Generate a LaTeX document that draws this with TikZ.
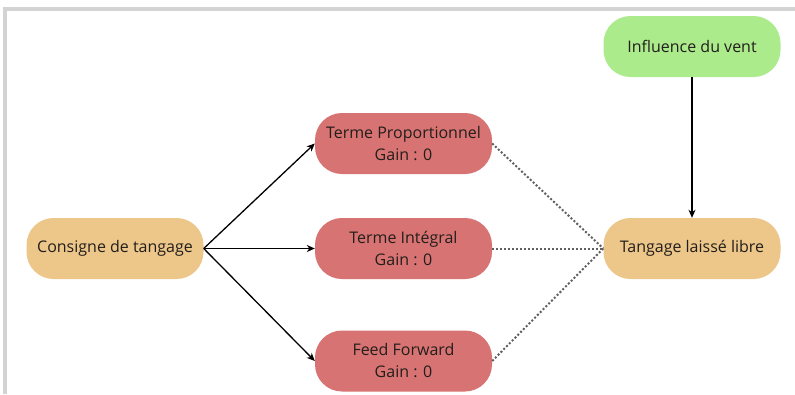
\documentclass[tikz,border=0pt]{standalone}
\usepackage{fontspec}
\setmainfont{Open Sans}
\usetikzlibrary{arrows.meta}
\definecolor{boxorange}{HTML}{EDC68A}
\definecolor{boxred}{HTML}{D87373}
\definecolor{boxgreen}{HTML}{ABEB8C}
\definecolor{txtdark}{HTML}{221E1B}
\definecolor{framegray}{HTML}{D3D3D3}
\definecolor{dotgray}{HTML}{606060}
\tikzset{
  pill/.style={rounded corners=27pt, minimum width=177pt, minimum height=61pt,
    inner sep=0pt, align=center, text=txtdark,
    font=\fontsize{16}{22}\selectfont},
  orangebox/.style={pill, fill=boxorange},
  redbox/.style={pill, fill=boxred},
  greenbox/.style={pill, fill=boxgreen},
  arr/.style={-{Stealth[length=8pt,width=7pt,inset=2.5pt]}, line width=1.3pt, black},
  dots/.style={dash pattern=on 2pt off 2pt, line width=2pt, dotgray}
}
\begin{document}
\begin{tikzpicture}
\useasboundingbox (0pt,0pt) rectangle (795pt,-394pt);
\fill[white] (0pt,0pt) rectangle (795pt,-394pt);
\draw[framegray, line width=4.5pt] (5pt,-394pt) -- (5pt,-9pt) -- (795pt,-9pt);

\node[orangebox] (cons) at (115pt,-248.5pt) {Consigne de tangage};
\node[redbox] (prop) at (403.5pt,-143.5pt) {Terme Proportionnel\\Gain : 0};
\node[redbox] (integ) at (403.5pt,-248.5pt) {Terme Intégral\\Gain : 0};
\node[redbox] (ff) at (403.5pt,-361pt) {Feed Forward\\Gain : 0};
\node[orangebox] (tang) at (692pt,-248.5pt) {Tangage laissé libre};
\node[greenbox] (vent) at (692pt,-46.5pt) {Influence du vent};

\draw[arr] (cons.east) -- (prop.west);
\draw[arr] (cons.east) -- (integ.west);
\draw[arr] (cons.east) -- (ff.west);
\draw[arr] (vent.south) -- (tang.north);

\draw[dots] (prop.east) -- (tang.west);
\draw[dots] (integ.east) -- (tang.west);
\draw[dots] (ff.east) -- (tang.west);
\end{tikzpicture}
\end{document}
